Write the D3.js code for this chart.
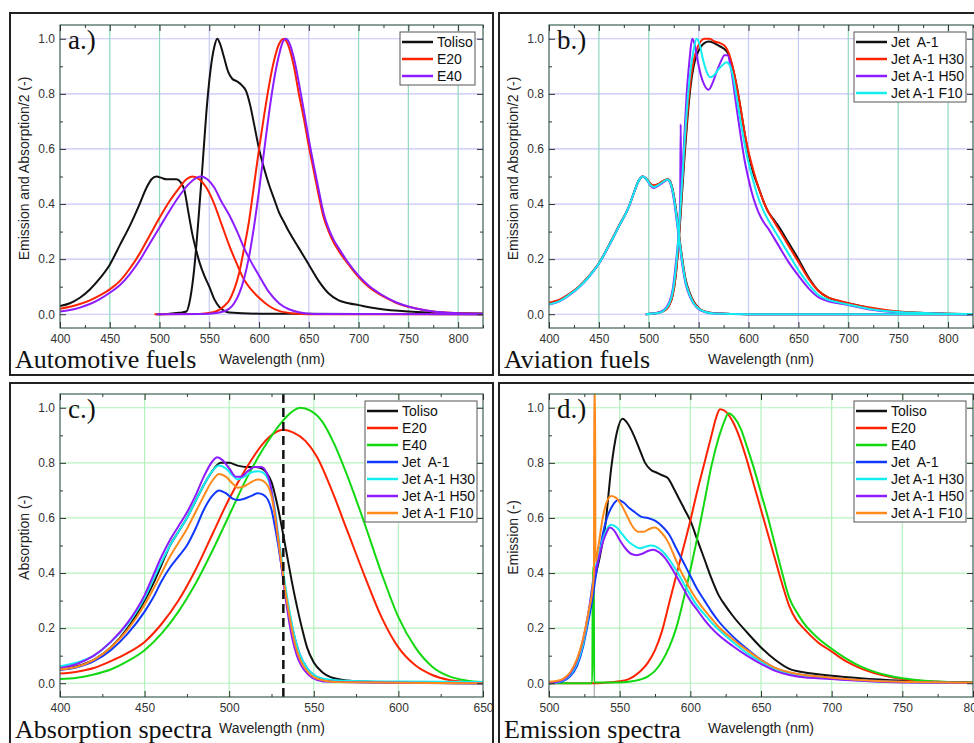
<html>
<head>
<style>
  body { margin: 0; background: #fff; }
</style>
</head>
<body>
<svg id="chart" width="974" height="743"></svg>
<script src="https://d3js.org/d3.v7.min.js"></script>
<script>
// ---- panel a: automotive fuels (absorption/2 + emission) ----
const aTolisoAbs = [[400,0.03],[410,0.04],[420,0.06],[430,0.09],[440,0.13],[450,0.18],[460,0.25],[470,0.32],[480,0.4],[487,0.46],[492,0.49],[497,0.5],[502,0.495],[507,0.49],[512,0.49],[517,0.49],[521,0.48],[525,0.45],[529,0.37],[533,0.29],[537,0.23],[540,0.19],[545,0.14],[550,0.1],[555,0.055],[560,0.027],[565,0.012],[570,0.006],[600,0.002],[700,0.001],[825,0]];
const aTolisoEm = [[497,0],[510,0.002],[520,0.005],[527,0.01],[531,0.06],[535,0.17],[539,0.34],[543,0.53],[547,0.73],[551,0.88],[555,0.97],[558,1.0],[561,0.98],[565,0.93],[569,0.88],[573,0.855],[578,0.845],[583,0.83],[587,0.81],[591,0.76],[595,0.69],[600,0.6],[605,0.53],[610,0.47],[615,0.42],[620,0.37],[625,0.335],[630,0.3],[640,0.24],[650,0.18],[660,0.12],[670,0.075],[680,0.05],[690,0.04],[700,0.033],[720,0.02],[750,0.01],[800,0.004],[825,0.003]];
const aE20Abs = [[400,0.02],[410,0.027],[420,0.037],[430,0.05],[440,0.068],[450,0.09],[460,0.12],[470,0.165],[480,0.22],[490,0.285],[500,0.35],[510,0.41],[520,0.46],[527,0.49],[533,0.5],[540,0.49],[547,0.46],[555,0.4],[562,0.33],[570,0.25],[578,0.18],[585,0.125],[592,0.09],[600,0.06],[610,0.03],[620,0.012],[635,0.003],[650,0],[825,0]];
const aE40Abs = [[400,0.01],[410,0.015],[420,0.024],[430,0.037],[440,0.055],[450,0.078],[460,0.105],[470,0.145],[480,0.195],[490,0.255],[500,0.315],[510,0.375],[520,0.43],[530,0.475],[537,0.495],[542,0.5],[548,0.49],[555,0.46],[562,0.41],[570,0.36],[578,0.3],[585,0.24],[592,0.19],[600,0.14],[610,0.08],[620,0.04],[630,0.018],[640,0.007],[655,0.001],[825,0]];
const aE20Em = [[495,0],[540,0.001],[555,0.008],[565,0.03],[570,0.05],[575,0.09],[580,0.15],[585,0.24],[590,0.34],[595,0.47],[600,0.6],[605,0.72],[610,0.83],[615,0.92],[620,0.98],[625,1.0],[630,0.97],[635,0.9],[640,0.8],[645,0.71],[650,0.61],[655,0.52],[660,0.43],[665,0.35],[670,0.3],[675,0.26],[680,0.23],[690,0.18],[700,0.135],[710,0.1],[720,0.075],[730,0.055],[740,0.038],[750,0.027],[775,0.01],[800,0.004],[825,0.002]];
const aE40Em = [[497,0],[545,0.001],[560,0.006],[570,0.02],[575,0.04],[580,0.075],[585,0.13],[590,0.21],[595,0.32],[600,0.45],[605,0.59],[610,0.73],[615,0.85],[620,0.94],[624,0.99],[627,1.0],[631,0.98],[635,0.93],[640,0.84],[645,0.74],[650,0.635],[655,0.54],[660,0.45],[665,0.365],[670,0.31],[675,0.27],[680,0.24],[690,0.185],[700,0.14],[710,0.104],[720,0.078],[730,0.057],[740,0.04],[750,0.028],[775,0.01],[800,0.004],[825,0.002]];

// ---- panel b: aviation fuels ----
const bJetAbs = [[400,0.04],[410,0.05],[420,0.072],[430,0.1],[440,0.138],[450,0.185],[460,0.25],[470,0.32],[480,0.39],[485,0.44],[490,0.485],[494,0.5],[498,0.49],[502,0.472],[505,0.466],[509,0.47],[514,0.482],[519,0.49],[522,0.478],[525,0.435],[528,0.36],[531,0.27],[534,0.19],[537,0.125],[541,0.078],[545,0.046],[550,0.023],[556,0.01],[565,0.004],[600,0],[825,0]];
const bH30Abs = [[400,0.042],[410,0.052],[420,0.073],[430,0.1],[440,0.138],[450,0.185],[460,0.25],[470,0.32],[480,0.39],[485,0.44],[490,0.485],[494,0.5],[498,0.49],[502,0.473],[505,0.468],[509,0.472],[514,0.483],[519,0.49],[522,0.476],[525,0.43],[528,0.355],[531,0.265],[534,0.185],[537,0.12],[541,0.075],[545,0.044],[550,0.022],[556,0.01],[565,0.004],[600,0],[825,0]];
const bH50Abs = [[400,0.035],[410,0.046],[420,0.068],[430,0.097],[440,0.135],[450,0.183],[460,0.248],[470,0.318],[480,0.39],[485,0.44],[490,0.485],[494,0.5],[498,0.488],[502,0.465],[505,0.458],[509,0.465],[514,0.478],[519,0.488],[522,0.47],[525,0.42],[528,0.34],[531,0.25],[534,0.17],[537,0.11],[541,0.066],[545,0.038],[550,0.018],[556,0.008],[565,0.003],[600,0],[825,0]];
const bF10Abs = [[400,0.036],[410,0.047],[420,0.07],[430,0.098],[440,0.136],[450,0.184],[460,0.249],[470,0.319],[480,0.39],[485,0.44],[490,0.485],[494,0.5],[498,0.489],[502,0.468],[505,0.462],[509,0.468],[514,0.48],[519,0.489],[522,0.474],[525,0.428],[528,0.35],[531,0.26],[534,0.18],[537,0.116],[541,0.07],[545,0.04],[550,0.02],[556,0.009],[565,0.003],[600,0],[825,0]];
const bJetEm = [[497,0],[510,0.005],[515,0.012],[520,0.03],[524,0.07],[527,0.14],[530,0.26],[533,0.42],[536,0.58],[539,0.72],[542,0.83],[545,0.9],[548,0.94],[552,0.97],[556,0.985],[560,0.99],[565,0.985],[570,0.975],[575,0.965],[579,0.95],[583,0.91],[587,0.85],[591,0.77],[595,0.68],[600,0.58],[605,0.51],[610,0.46],[615,0.41],[620,0.37],[625,0.345],[630,0.32],[640,0.26],[650,0.2],[660,0.135],[670,0.085],[680,0.06],[690,0.048],[700,0.04],[720,0.024],[750,0.009],[800,0.002],[825,0.001]];
const bH30Em = [[497,0],[515,0.012],[520,0.03],[524,0.07],[527,0.14],[530,0.27],[533,0.44],[536,0.6],[539,0.74],[542,0.85],[545,0.92],[548,0.96],[552,0.99],[556,1.0],[561,1.0],[566,0.99],[571,0.985],[576,0.975],[580,0.95],[584,0.9],[588,0.83],[592,0.75],[596,0.66],[600,0.59],[605,0.52],[610,0.46],[615,0.41],[620,0.37],[625,0.34],[630,0.31],[640,0.25],[650,0.19],[660,0.13],[670,0.085],[680,0.06],[690,0.05],[700,0.04],[720,0.025],[750,0.01],[800,0.002],[825,0.001]];
const bH50Em = [[497,0],[510,0.006],[515,0.015],[520,0.04],[524,0.09],[527,0.18],[530,0.3],[531.5,0.42],[532,0.69],[532.6,0.45],[535,0.6],[538,0.8],[541,0.93],[543.5,1.0],[546,0.98],[549,0.92],[552,0.87],[556,0.83],[560,0.815],[564,0.84],[568,0.88],[572,0.915],[576,0.94],[579,0.94],[582,0.9],[585,0.83],[588,0.75],[592,0.65],[596,0.56],[600,0.49],[605,0.42],[610,0.37],[615,0.335],[620,0.31],[625,0.28],[630,0.25],[640,0.19],[650,0.14],[660,0.095],[670,0.062],[680,0.047],[690,0.04],[700,0.033],[720,0.018],[750,0.006],[800,0.001],[825,0]];
const bF10Em = [[497,0],[510,0.005],[515,0.013],[520,0.035],[524,0.08],[527,0.16],[530,0.29],[533,0.46],[536,0.63],[539,0.78],[542,0.89],[545,0.96],[548,1.0],[551,0.98],[554,0.93],[558,0.88],[562,0.86],[566,0.87],[570,0.89],[574,0.905],[578,0.915],[581,0.905],[584,0.87],[588,0.79],[592,0.7],[596,0.62],[600,0.55],[605,0.48],[610,0.42],[615,0.375],[620,0.34],[625,0.31],[630,0.28],[640,0.22],[650,0.16],[660,0.11],[670,0.07],[680,0.052],[690,0.043],[700,0.035],[720,0.02],[750,0.008],[800,0.002],[825,0]];

// ---- panel c: absorption spectra ----
const cToliso = [[400,0.05],[410,0.062],[420,0.085],[430,0.13],[440,0.2],[450,0.3],[455,0.36],[460,0.43],[465,0.5],[470,0.55],[475,0.6],[480,0.66],[485,0.72],[490,0.77],[495,0.8],[500,0.8],[505,0.79],[510,0.785],[515,0.785],[519,0.78],[522,0.765],[525,0.73],[528,0.66],[531,0.57],[534,0.47],[537,0.37],[540,0.28],[543,0.2],[546,0.13],[550,0.075],[555,0.04],[560,0.022],[570,0.01],[580,0.006],[600,0.003],[650,0]];
const cE20 = [[400,0.035],[410,0.042],[420,0.055],[430,0.08],[440,0.11],[450,0.15],[460,0.215],[470,0.3],[480,0.41],[490,0.54],[500,0.67],[510,0.78],[520,0.87],[526,0.905],[532,0.92],[538,0.91],[545,0.88],[552,0.82],[560,0.71],[570,0.55],[580,0.39],[590,0.24],[600,0.13],[610,0.065],[620,0.03],[630,0.012],[640,0.005],[650,0.002]];
const cE40 = [[400,0.015],[410,0.02],[420,0.032],[430,0.05],[440,0.08],[450,0.12],[460,0.18],[470,0.26],[480,0.36],[490,0.48],[500,0.61],[510,0.74],[520,0.85],[530,0.94],[537,0.985],[542,1.0],[548,0.99],[555,0.95],[562,0.87],[570,0.75],[580,0.58],[590,0.4],[600,0.24],[610,0.13],[620,0.06],[630,0.025],[640,0.01],[650,0.004]];
const cJet = [[400,0.048],[410,0.058],[420,0.08],[430,0.12],[440,0.18],[450,0.26],[455,0.31],[460,0.37],[465,0.42],[470,0.46],[475,0.5],[480,0.56],[485,0.63],[490,0.68],[494,0.7],[498,0.69],[502,0.67],[505,0.665],[509,0.67],[513,0.68],[517,0.69],[520,0.685],[523,0.665],[525,0.63],[527,0.57],[529,0.5],[531,0.42],[533,0.34],[536,0.24],[539,0.16],[542,0.1],[546,0.055],[550,0.03],[556,0.014],[565,0.006],[600,0.002],[650,0]];
const cH30 = [[400,0.062],[410,0.075],[420,0.1],[430,0.15],[440,0.215],[450,0.31],[455,0.375],[460,0.44],[465,0.5],[470,0.55],[475,0.6],[480,0.66],[485,0.72],[490,0.77],[494,0.79],[498,0.78],[502,0.755],[505,0.74],[509,0.75],[513,0.765],[517,0.77],[520,0.765],[523,0.74],[525,0.7],[527,0.63],[529,0.54],[531,0.45],[533,0.36],[536,0.25],[539,0.16],[542,0.1],[546,0.055],[550,0.03],[556,0.016],[565,0.01],[600,0.006],[650,0.004]];
const cH50 = [[400,0.055],[410,0.07],[420,0.1],[430,0.15],[440,0.22],[450,0.32],[455,0.39],[460,0.46],[465,0.52],[470,0.57],[475,0.62],[480,0.68],[485,0.75],[490,0.805],[493,0.82],[496,0.81],[500,0.78],[504,0.75],[507,0.75],[511,0.77],[515,0.785],[519,0.785],[522,0.765],[524,0.73],[526,0.66],[528,0.57],[530,0.47],[532,0.37],[534,0.28],[537,0.17],[540,0.1],[543,0.06],[547,0.03],[552,0.012],[560,0.005],[600,0.002],[650,0]];
const cF10 = [[400,0.05],[410,0.06],[420,0.085],[430,0.13],[440,0.195],[450,0.285],[455,0.34],[460,0.4],[465,0.46],[470,0.51],[475,0.56],[480,0.62],[485,0.68],[490,0.735],[494,0.76],[498,0.75],[502,0.725],[505,0.71],[509,0.715],[513,0.73],[517,0.74],[520,0.735],[523,0.715],[525,0.68],[527,0.61],[529,0.52],[531,0.43],[533,0.34],[536,0.23],[539,0.14],[542,0.085],[546,0.045],[550,0.022],[556,0.01],[565,0.004],[600,0.002],[650,0]];

// ---- panel d: emission spectra ----
const dToliso = [[500,0],[505,0.003],[510,0.012],[515,0.035],[520,0.08],[524,0.15],[528,0.25],[532,0.37],[536,0.46],[540,0.58],[544,0.78],[548,0.91],[552,0.96],[556,0.94],[560,0.9],[564,0.85],[568,0.8],[572,0.775],[576,0.765],[580,0.755],[584,0.745],[588,0.71],[592,0.67],[596,0.63],[600,0.59],[605,0.52],[610,0.45],[615,0.38],[620,0.32],[625,0.28],[630,0.245],[640,0.185],[650,0.13],[660,0.085],[670,0.052],[680,0.04],[690,0.033],[700,0.027],[720,0.018],[750,0.009],[800,0.003]];
const dE20 = [[500,0],[530,0],[540,0.002],[550,0.007],[555,0.012],[560,0.025],[565,0.045],[570,0.075],[575,0.12],[580,0.19],[585,0.29],[590,0.39],[595,0.49],[600,0.59],[605,0.7],[610,0.8],[615,0.9],[618,0.96],[621,0.995],[624,0.99],[630,0.95],[635,0.89],[640,0.81],[645,0.72],[650,0.63],[655,0.54],[660,0.45],[665,0.36],[670,0.28],[675,0.23],[680,0.2],[690,0.15],[700,0.115],[710,0.08],[720,0.055],[730,0.037],[740,0.024],[750,0.015],[775,0.005],[800,0.001]];
const dE40 = [[500,0],[530.6,0],[531,0.42],[531.6,0.42],[532,0.003],[550,0.003],[560,0.008],[570,0.025],[575,0.045],[580,0.08],[585,0.13],[590,0.2],[595,0.3],[600,0.41],[605,0.53],[610,0.66],[615,0.79],[620,0.89],[624,0.95],[627,0.98],[631,0.965],[636,0.92],[640,0.86],[645,0.78],[650,0.69],[655,0.6],[660,0.5],[665,0.4],[670,0.31],[675,0.26],[680,0.22],[690,0.165],[700,0.125],[710,0.09],[720,0.062],[730,0.042],[740,0.028],[750,0.018],[775,0.006],[800,0.002]];
const dJet = [[500,0],[505,0.002],[510,0.008],[515,0.025],[520,0.065],[524,0.13],[528,0.23],[531.5,0.33],[532,0.35],[535,0.45],[538,0.54],[541,0.6],[545,0.645],[549,0.665],[553,0.655],[557,0.635],[561,0.62],[565,0.605],[570,0.6],[575,0.59],[580,0.57],[585,0.54],[590,0.49],[595,0.44],[600,0.39],[605,0.34],[610,0.3],[615,0.26],[620,0.225],[630,0.17],[640,0.125],[650,0.085],[660,0.055],[670,0.038],[680,0.03],[690,0.025],[700,0.02],[720,0.012],[750,0.005],[800,0.001]];
const dH30 = [[500,0],[505,0.003],[510,0.01],[515,0.03],[520,0.075],[524,0.14],[528,0.25],[532,0.4],[535,0.46],[538,0.52],[541,0.56],[544,0.575],[548,0.565],[552,0.54],[556,0.515],[560,0.5],[564,0.49],[568,0.495],[572,0.5],[576,0.495],[580,0.48],[585,0.45],[590,0.41],[595,0.365],[600,0.32],[605,0.28],[610,0.25],[615,0.22],[620,0.195],[630,0.15],[640,0.11],[650,0.078],[660,0.05],[670,0.034],[680,0.026],[690,0.021],[700,0.017],[720,0.01],[750,0.004],[800,0.001]];
const dH50 = [[500,0],[505,0.004],[510,0.012],[515,0.035],[520,0.085],[524,0.155],[528,0.26],[532,0.39],[535,0.45],[538,0.51],[541,0.55],[543,0.565],[546,0.555],[550,0.52],[554,0.49],[558,0.47],[562,0.465],[566,0.47],[570,0.48],[574,0.485],[578,0.475],[582,0.455],[586,0.425],[590,0.39],[595,0.345],[600,0.3],[605,0.265],[610,0.23],[615,0.2],[620,0.175],[630,0.135],[640,0.1],[650,0.07],[660,0.045],[670,0.03],[680,0.022],[690,0.018],[700,0.015],[720,0.009],[750,0.003],[800,0.001]];
const dF10 = [[500,0.005],[505,0.008],[510,0.016],[515,0.04],[520,0.09],[524,0.16],[528,0.26],[531,0.35],[531.8,0.4],[532.1,1.08],[532.6,1.08],[532.9,0.44],[535,0.5],[538,0.6],[541,0.66],[544,0.68],[547,0.675],[551,0.65],[555,0.61],[559,0.57],[563,0.55],[567,0.55],[571,0.56],[575,0.565],[579,0.55],[584,0.515],[588,0.47],[592,0.42],[596,0.38],[600,0.34],[605,0.3],[610,0.265],[615,0.235],[620,0.205],[630,0.16],[640,0.12],[650,0.085],[660,0.056],[670,0.04],[680,0.03],[690,0.025],[700,0.02],[720,0.012],[750,0.005],[800,0.002]];

const yMajor = [0, 0.2, 0.4, 0.6, 0.8, 1.0];
const yMinor = [0.1, 0.3, 0.5, 0.7, 0.9];
const laserLine = 532; // excitation wavelength marker

const BLACK = "#111", RED = "#ff2200", PURPLE = "#8c1cff", CYAN = "#12eef0",
      GREEN = "#12d812", BLUE = "#1038ff", ORANGE = "#ff8a1c";
const SANS = '"Liberation Sans", Arial, sans-serif';
const SERIF = '"Liberation Serif", "Times New Roman", serif';

const panels = [
  { frame: [10, 13, 493, 375], plot: [60, 25, 483, 328], xDomain: [400, 825],
    xMajor: d3.range(400, 801, 50), xMinor: d3.range(425, 826, 50), grid: "ab",
    label: "a.)", title: "Automotive fuels", yTitle: "Emission and Absorption/2 (-)",
    legend: { x: 400, y: 32, w: 75 },
    series: [
      { name: "Toliso", color: BLACK, curves: [aTolisoAbs, aTolisoEm] },
      { name: "E20", color: RED, curves: [aE20Abs, aE20Em] },
      { name: "E40", color: PURPLE, curves: [aE40Abs, aE40Em] }
    ] },
  { frame: [499, 13, 980, 375], plot: [549, 25, 973, 328], xDomain: [400, 825],
    xMajor: d3.range(400, 801, 50), xMinor: d3.range(425, 826, 50), grid: "ab",
    label: "b.)", title: "Aviation fuels", yTitle: "Emission and Absorption/2 (-)",
    legend: { x: 854, y: 32, w: 112 },
    series: [
      { name: "Jet  A-1", color: BLACK, curves: [bJetAbs, bJetEm] },
      { name: "Jet A-1 H30", color: RED, curves: [bH30Abs, bH30Em] },
      { name: "Jet A-1 H50", color: PURPLE, curves: [bH50Abs, bH50Em] },
      { name: "Jet A-1 F10", color: CYAN, curves: [bF10Abs, bF10Em] }
    ] },
  { frame: [10, 383, 493, 750], plot: [60, 394, 483, 697], xDomain: [400, 650],
    xMajor: d3.range(400, 651, 50), xMinor: d3.range(425, 651, 50), grid: "cd",
    label: "c.)", title: "Absorption spectra", yTitle: "Absorption (-)", dashed: true,
    legend: { x: 365, y: 401, w: 112 },
    series: [
      { name: "Toliso", color: BLACK, curves: [cToliso] },
      { name: "E20", color: RED, curves: [cE20] },
      { name: "E40", color: GREEN, curves: [cE40] },
      { name: "Jet  A-1", color: BLUE, curves: [cJet] },
      { name: "Jet A-1 H30", color: CYAN, curves: [cH30] },
      { name: "Jet A-1 H50", color: PURPLE, curves: [cH50] },
      { name: "Jet A-1 F10", color: ORANGE, curves: [cF10] }
    ] },
  { frame: [499, 383, 980, 750], plot: [549, 394, 973, 697], xDomain: [500, 800],
    xMajor: d3.range(500, 801, 50), xMinor: d3.range(525, 801, 50), grid: "cd",
    label: "d.)", title: "Emission spectra", yTitle: "Emission (-)", thinLine: true,
    legend: { x: 854, y: 401, w: 112 },
    series: [
      { name: "Toliso", color: BLACK, curves: [dToliso] },
      { name: "E20", color: RED, curves: [dE20] },
      { name: "E40", color: GREEN, curves: [dE40] },
      { name: "Jet  A-1", color: BLUE, curves: [dJet] },
      { name: "Jet A-1 H30", color: CYAN, curves: [dH30] },
      { name: "Jet A-1 H50", color: PURPLE, curves: [dH50] },
      { name: "Jet A-1 F10", color: ORANGE, curves: [dF10] }
    ] }
];

const svg = d3.select("#chart");
svg.append("rect").attr("width", 974).attr("height", 743).attr("fill", "#fff");

panels.forEach((p, i) => {
  const [x0, y0, x1, y1] = p.plot;
  const x = d3.scaleLinear().domain(p.xDomain).range([x0, x1]);
  const y = d3.scaleLinear().domain([-0.05, 1.05]).range([y1, y0]);
  const g = svg.append("g");

  // grid
  const hGrid = p.grid === "ab" ? "#c4c4fa" : "#b4f2bc";
  g.selectAll(".hg").data(yMajor).join("line")
    .attr("x1", x0).attr("x2", x1).attr("y1", d => y(d)).attr("y2", d => y(d))
    .attr("stroke", hGrid).attr("stroke-width", 1.2);
  g.selectAll(".vg").data(p.xMajor.filter(d => d > p.xDomain[0] && d < p.xDomain[1])).join("line")
    .attr("x1", d => x(d)).attr("x2", d => x(d)).attr("y1", y0).attr("y2", y1)
    .attr("stroke", d => p.grid === "cd" ? "#b4f2bc" : (d >= 550 && d <= 650 ? "#c8cafa" : "#8fd8bc"))
    .attr("stroke-width", 1.2);

  // curves
  const clipId = "clip" + i;
  g.append("clipPath").attr("id", clipId).append("rect")
    .attr("x", x0).attr("y", y0).attr("width", x1 - x0).attr("height", y1 - y0);
  const cg = g.append("g").attr("clip-path", `url(#${clipId})`);

  if (p.thinLine) {
    cg.append("line").attr("x1", x(laserLine)).attr("x2", x(laserLine))
      .attr("y1", y0).attr("y2", y1).attr("stroke", "#999").attr("stroke-width", 1);
  }

  const line = d3.line().x(d => x(d[0])).y(d => y(d[1])).curve(d3.curveMonotoneX);
  p.series.forEach(s => {
    s.curves.forEach(c => {
      cg.append("path").datum(c).attr("d", line)
        .attr("fill", "none").attr("stroke", s.color)
        .attr("stroke-width", 2).attr("stroke-linejoin", "round");
    });
  });

  if (p.dashed) {
    cg.append("line").attr("x1", x(laserLine)).attr("x2", x(laserLine))
      .attr("y1", y0).attr("y2", y1).attr("stroke", "#111")
      .attr("stroke-width", 2.5).attr("stroke-dasharray", "9,5");
  }

  // plot box
  g.append("rect").attr("x", x0).attr("y", y0).attr("width", x1 - x0).attr("height", y1 - y0)
    .attr("fill", "none").attr("stroke", "#3d5f52").attr("stroke-width", 1.2);

  // axes, ticks inward
  const style = sel => {
    sel.select(".domain").remove();
    sel.selectAll("line").attr("stroke", "#333");
    sel.selectAll("text").attr("font-size", 12).attr("fill", "#333").attr("font-family", SANS);
  };
  g.append("g").attr("transform", `translate(0,${y1})`)
    .call(d3.axisBottom(x).tickValues(p.xMajor).tickSize(-6).tickPadding(6)).call(style);
  g.append("g").attr("transform", `translate(0,${y1})`)
    .call(d3.axisBottom(x).tickValues(p.xMinor).tickSize(-3).tickFormat("")).call(style);
  g.append("g").attr("transform", `translate(0,${y0})`)
    .call(d3.axisTop(x).tickValues(p.xMajor).tickSize(-6).tickFormat("")).call(style);
  g.append("g").attr("transform", `translate(0,${y0})`)
    .call(d3.axisTop(x).tickValues(p.xMinor).tickSize(-3).tickFormat("")).call(style);
  g.append("g").attr("transform", `translate(${x0},0)`)
    .call(d3.axisLeft(y).tickValues(yMajor).tickFormat(d3.format(".1f")).tickSize(-6).tickPadding(5)).call(style);
  g.append("g").attr("transform", `translate(${x0},0)`)
    .call(d3.axisLeft(y).tickValues(yMinor).tickSize(-3).tickFormat("")).call(style);
  g.append("g").attr("transform", `translate(${x1},0)`)
    .call(d3.axisRight(y).tickValues(yMajor).tickSize(-6).tickFormat("")).call(style);
  g.append("g").attr("transform", `translate(${x1},0)`)
    .call(d3.axisRight(y).tickValues(yMinor).tickSize(-3).tickFormat("")).call(style);

  // axis titles
  g.append("text").attr("x", x0 + 212).attr("y", y1 + 36)
    .attr("text-anchor", "middle").attr("font-size", 14).attr("fill", "#222")
    .attr("font-family", SANS).text("Wavelength (nm)");
  g.append("text").attr("transform", `translate(${x0 - 36},${(y0 + y1) / 2 - 8}) rotate(-90)`)
    .attr("text-anchor", "middle").attr("dominant-baseline", "central")
    .attr("font-size", 14).attr("fill", "#222").attr("font-family", SANS).text(p.yTitle);

  // legend
  const L = p.legend, rowH = 17;
  const lg = g.append("g");
  lg.append("rect").attr("x", L.x).attr("y", L.y).attr("width", L.w)
    .attr("height", p.series.length * rowH + 2)
    .attr("fill", "#fff").attr("stroke", "#555").attr("stroke-width", 1);
  p.series.forEach((s, k) => {
    const cy = L.y + 10 + k * rowH;
    lg.append("line").attr("x1", L.x + 2).attr("x2", L.x + 33).attr("y1", cy).attr("y2", cy)
      .attr("stroke", s.color).attr("stroke-width", 2.5);
    lg.append("text").attr("x", L.x + 37).attr("y", cy).attr("dominant-baseline", "central")
      .attr("font-size", 14).attr("fill", "#111").attr("font-family", SANS)
      .style("white-space", "pre").text(s.name);
  });

  // panel letter and bottom title (serif)
  g.append("text").attr("x", x0 + 8).attr("y", y0 + 24)
    .attr("font-family", SERIF).attr("font-size", 27).attr("fill", "#111").text(p.label);
  g.append("text").attr("x", p.frame[0] + 5).attr("y", p.frame[1] + 355)
    .attr("font-family", SERIF).attr("font-size", 26).attr("fill", "#111").text(p.title);
});

// panel frames drawn last so they sit on top
panels.forEach(p => {
  const [fx0, fy0, fx1, fy1] = p.frame;
  svg.append("rect").attr("x", fx0).attr("y", fy0).attr("width", fx1 - fx0).attr("height", fy1 - fy0)
    .attr("fill", "none").attr("stroke", "#222").attr("stroke-width", 2);
});
</script>
</body>
</html>
